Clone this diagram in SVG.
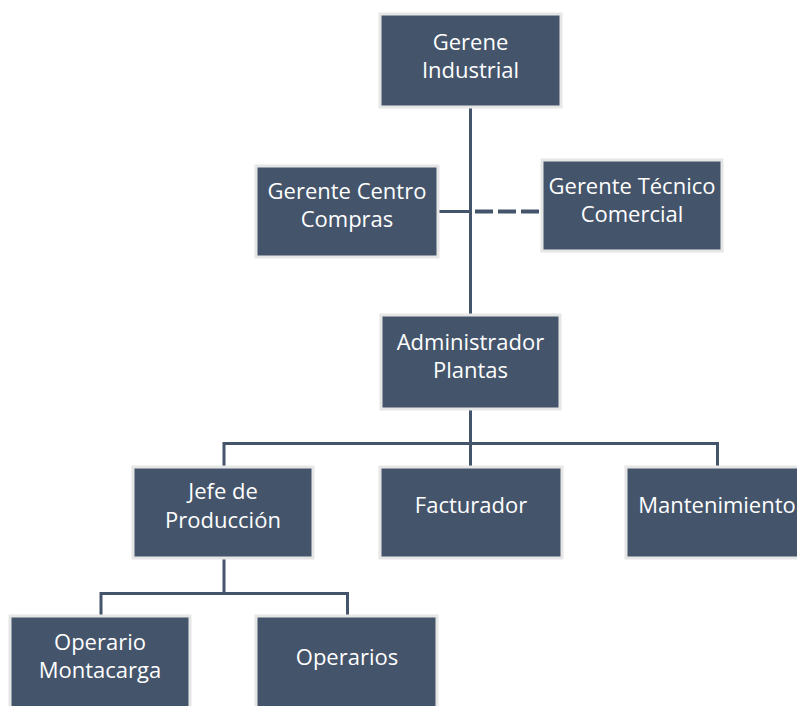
<svg xmlns="http://www.w3.org/2000/svg" width="797" height="706" viewBox="0 0 797 706">
<style>
.box{fill:#44546A;stroke:#E6E6E6;stroke-width:3}
.t{font-family:"Open Sans","Noto Sans","DejaVu Sans",sans-serif;font-size:22px;fill:#FFFFFF;text-anchor:middle}
.ln{stroke:#44546A;stroke-width:3;fill:none}
.dash{stroke:#44546A;stroke-width:4;fill:none;stroke-dasharray:18 5}
</style>
<rect width="797" height="706" fill="#FFFFFF"/>
<g id="connectors">
<path class="ln" d="M470.5 108 V315"/>
<path class="ln" d="M438 211.5 H470.5"/>
<path class="dash" d="M475 211.5 H542"/>
<path class="ln" d="M470.5 409 V443.5"/>
<path class="ln" d="M224 467 V443.5 H717.5 V467"/>
<path class="ln" d="M470.5 443.5 V467"/>
<path class="ln" d="M224 558 V593.5"/>
<path class="ln" d="M101 616 V593.5 H347.5 V616"/>
</g>
<g id="n-gerene">
<rect class="box" x="380" y="14" width="181" height="93"/>
<text class="t" x="470.5" y="50">Gerene</text>
<text class="t" x="470.5" y="78">Industrial</text>
</g>
<g id="n-compras">
<rect class="box" x="256" y="166" width="182" height="91"/>
<text class="t" x="347" y="199">Gerente Centro</text>
<text class="t" x="347" y="227">Compras</text>
</g>
<g id="n-tecnico">
<rect class="box" x="542" y="160" width="180" height="91"/>
<text class="t" x="632" y="194">Gerente Técnico</text>
<text class="t" x="632" y="222">Comercial</text>
</g>
<g id="n-admin">
<rect class="box" x="381" y="315" width="179" height="94"/>
<text class="t" x="470.5" y="350">Administrador</text>
<text class="t" x="470.5" y="378">Plantas</text>
</g>
<g id="n-jefe">
<rect class="box" x="133" y="467" width="180" height="91"/>
<text class="t" x="223" y="499">Jefe de</text>
<text class="t" x="223" y="528">Producción</text>
</g>
<g id="n-facturador">
<rect class="box" x="380" y="467" width="182" height="91"/>
<text class="t" x="471" y="513">Facturador</text>
</g>
<g id="n-mantenimiento">
<rect class="box" x="626" y="467" width="182" height="91"/>
<text class="t" x="717" y="513">Mantenimiento</text>
</g>
<g id="n-montacarga">
<rect class="box" x="10" y="616" width="180" height="94"/>
<text class="t" x="100" y="650">Operario</text>
<text class="t" x="100" y="678">Montacarga</text>
</g>
<g id="n-operarios">
<rect class="box" x="256" y="616" width="181" height="94"/>
<text class="t" x="347" y="665">Operarios</text>
</g>
</svg>
